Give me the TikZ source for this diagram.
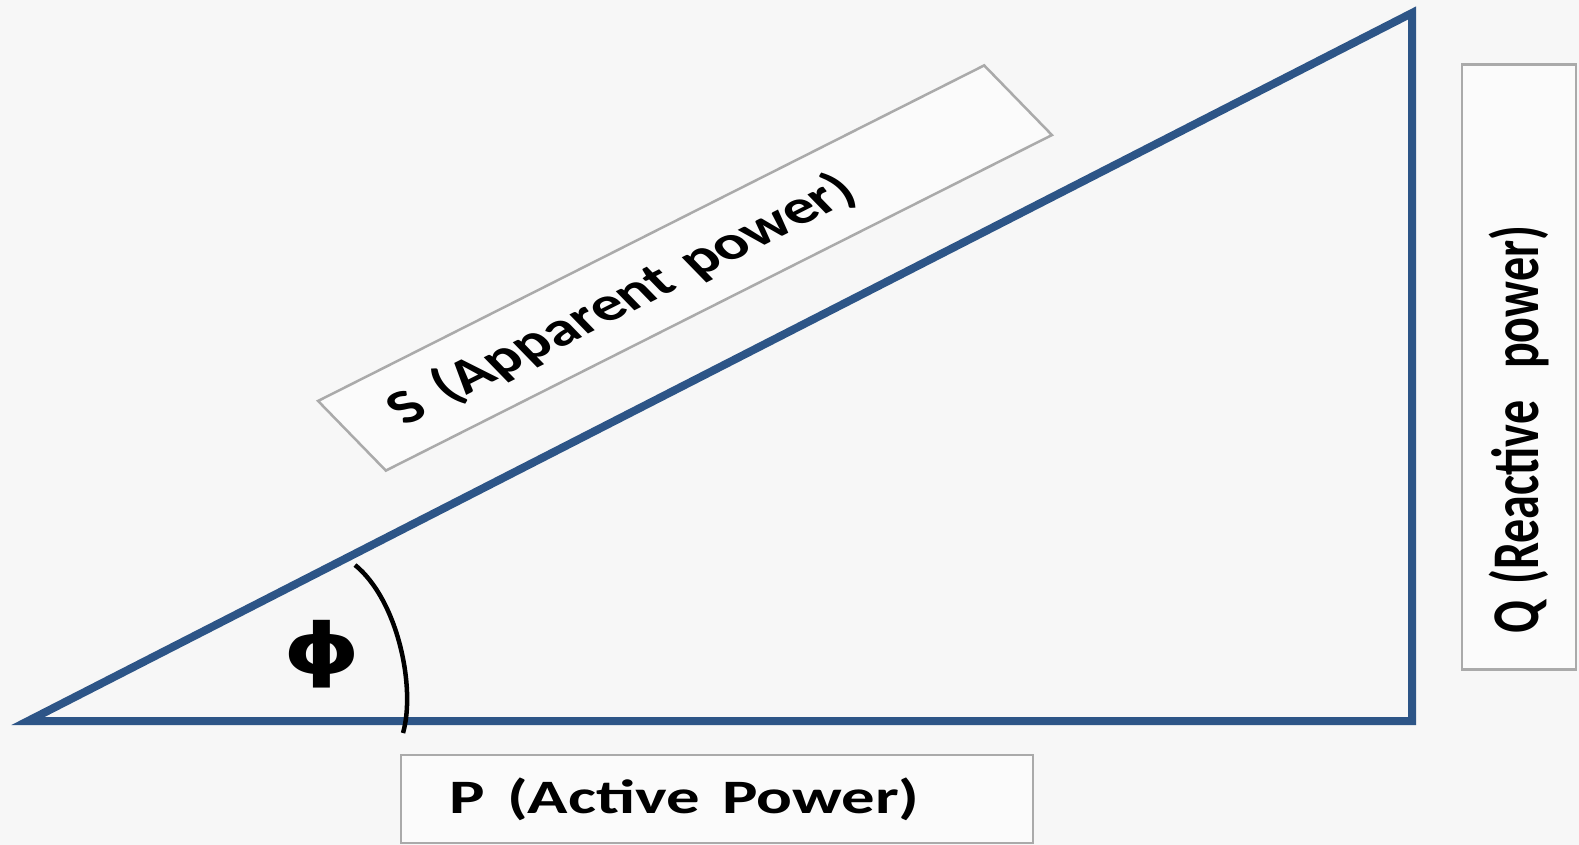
\documentclass[tikz,border=0pt]{standalone}
\usepackage{fontspec}
\setmainfont{Carlito}
\newfontfamily\phifont{DejaVu Sans}
\usepackage{tikz}
\definecolor{side_blue}{RGB}{45,85,135}
\definecolor{paper}{RGB}{247,247,247}
\definecolor{frame_gray}{RGB}{170,170,170}
\tikzset{
  label_font/.style = {font=\fontsize{48}{48}\selectfont\bfseries},
  phi_font/.style = {font=\fontsize{70}{70}\phifont\bfseries},
  stretched/.style = {xscale=1.39},
  box_background/.style = {fill=white!50!paper}
}
\tikzset{
  side/.style = {draw=side_blue, line width=8pt, line join=miter},
  angle_arc/.style = {draw=black, line width=4.5pt},
  label_box/.style = {label_font, stretched, align=left, draw=frame_gray, line width=2.5pt, box_background, inner ysep=0pt}
}
\usetikzlibrary{calc}

\begin{document}
\begin{tikzpicture}[x=1pt, y=-1pt]{

        % Page
        \fill[paper] (0,0) rectangle (1579,845);
        \useasboundingbox (0,0) rectangle (1579,845);

        % Corners
        \coordinate (a) at (28,721);
        \coordinate (b) at (1412,721);
        \coordinate (c) at (1412,13);

        % Triangle
        \draw[side] (a)--(b)--(c)--cycle;

        % Angle
        \coordinate (arc_start) at (355,565);
        \coordinate (arc_end) at (403,733);
        \draw[angle_arc] (arc_start) .. controls (398,600) and (416,688) .. (arc_end);
        \node[phi_font, stretched] at (322,654) (phi) {ϕ};

        % Labels
        \node[label_box, rotate=35, minimum width=585pt, minimum height=85pt,
              text width=511pt, inner xsep=37pt] at (685,268) (s_label) {
            S (Apparent power)};
        \node[label_box, minimum width=455pt, minimum height=88pt,
              text width=385pt, inner xsep=35pt] at (717,799) (p_label) {
            P (Active Power)};
        \node[label_box, rotate=90, minimum width=605pt, minimum height=82pt,
              text width=533pt, inner xsep=36pt] at (1519,367) (q_label) {
            Q (Reactive\ \ power)};
        }
    \end{tikzpicture}
\end{document}
